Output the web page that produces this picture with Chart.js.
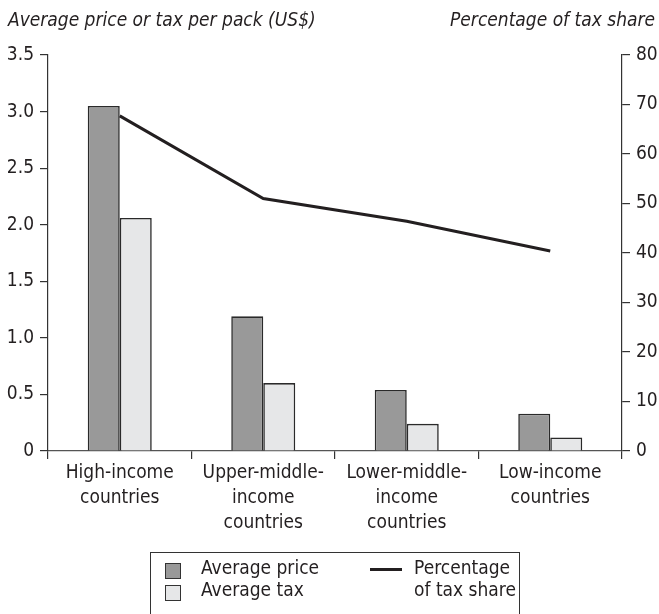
<!DOCTYPE html>
<html>
<head>
<meta charset="utf-8">
<script src="https://cdn.jsdelivr.net/npm/chart.js@4/dist/chart.umd.min.js"></script>
<style>
  body{margin:0;background:#fff;}
  #wrap{position:relative;width:659px;height:614px;overflow:hidden;font-family:'Liberation Sans Narrow','DejaVu Sans Condensed',sans-serif;color:#231f20;}
  .ttl{position:absolute;top:8px;font-size:19px;font-style:italic;white-space:nowrap;}
  #legend{position:absolute;left:150px;top:552px;width:370px;height:90px;border:1px solid #333;box-sizing:border-box;font-size:19px;}
  .li{position:absolute;line-height:22px;white-space:nowrap;}
  .sw{position:absolute;width:16px;height:16px;border:1.5px solid #333;box-sizing:border-box;}
  .ln{position:absolute;width:32px;height:3px;}
</style>
</head>
<body>
<div id="wrap">
  <canvas id="c" width="659" height="614"></canvas>
  <div class="ttl" style="left:8px">Average price or tax per pack (US$)</div>
  <div class="ttl" style="right:4px">Percentage of tax share</div>
  <div id="legend"></div>
</div>
<script>
// ---- data ----
const categories = [["High-income","countries"],["Upper-middle-","income","countries"],["Lower-middle-","income","countries"],["Low-income","countries"]];
const avgPrice = [3.05, 1.19, 0.54, 0.33];
const avgTax = [2.06, 0.60, 0.24, 0.12];
const taxShare = [67.7, 51.0, 46.4, 40.4];
const leftTicks = [0, 0.5, 1.0, 1.5, 2.0, 2.5, 3.0, 3.5];
const rightTicks = [0, 10, 20, 30, 40, 50, 60, 70, 80];

const FONT = "'Liberation Sans Narrow','DejaVu Sans Condensed',sans-serif";
const ink = "#231f20";
const tickFont = {family: FONT, size: 19};

const chart = new Chart(document.getElementById("c"), {
  type: "bar",
  data: {
    labels: categories,
    datasets: [
      {type:"line", label:["Percentage","of tax share"], data:taxShare, yAxisID:"y1", borderColor:ink, borderWidth:3, pointRadius:0, tension:0, order:0},
      {label:"Average price", data:avgPrice, yAxisID:"y", backgroundColor:"#999999", borderColor:"#2a2a2a", borderWidth:1.6, order:1},
      {label:"Average tax", data:avgTax, yAxisID:"y", backgroundColor:"#e6e7e8", borderColor:"#2a2a2a", borderWidth:1.6, order:1}
    ]
  },
  options: {
    responsive: false,
    animation: false,
    categoryPercentage: 0.446,
    barPercentage: 1,
    layout: {padding: {top: 55, left: 0, right: 0, bottom: 0}},
    plugins: {legend: {display: false}, tooltip: {enabled: false}},
    scales: {
      x: {
        grid: {drawOnChartArea: false, tickLength: 8, color: "#333", lineWidth: 1.2},
        border: {color: "#555", width: 1.2},
        ticks: {font: {family: FONT, size: 19, lineHeight: 1.3}, color: ink, padding: 2, maxRotation: 0, autoSkip: false},
        afterFit: s => { s.height = 163; }
      },
      y: {
        position: "left", min: 0, max: 3.5,
        afterBuildTicks: s => { s.ticks = leftTicks.map(v => ({value: v})); },
        grid: {drawOnChartArea: false, tickLength: 8, color: "#333", lineWidth: 1.2},
        border: {color: "#333", width: 1.2},
        ticks: {font: tickFont, color: ink, padding: 6, callback: v => v === 0 ? "0" : v.toFixed(1)},
        afterFit: s => { s.width = 48; }
      },
      y1: {
        position: "right", min: 0, max: 80,
        afterBuildTicks: s => { s.ticks = rightTicks.map(v => ({value: v})); },
        grid: {drawOnChartArea: false, tickLength: 8, color: "#333", lineWidth: 1.2},
        border: {color: "#333", width: 1.2},
        ticks: {font: tickFont, color: ink, padding: 6},
        afterFit: s => { s.width = 37; }
      }
    }
  }
});

// ---- legend (html, built from the datasets) ----
const lg = document.getElementById("legend");
const bars = chart.data.datasets.filter(d => d.type !== "line");
bars.forEach((d, i) => {
  const sw = document.createElement("div");
  sw.className = "sw";
  sw.style.left = "14px"; sw.style.top = (10 + i * 22) + "px";
  sw.style.background = d.backgroundColor;
  lg.appendChild(sw);
  const t = document.createElement("div");
  t.className = "li";
  t.style.left = "50px"; t.style.top = (3 + i * 22) + "px";
  t.textContent = d.label;
  lg.appendChild(t);
});
const ld = chart.data.datasets.find(d => d.type === "line");
const ln = document.createElement("div");
ln.className = "ln";
ln.style.left = "219px"; ln.style.top = "15px"; ln.style.background = ld.borderColor;
lg.appendChild(ln);
ld.label.forEach((s, i) => {
  const t = document.createElement("div");
  t.className = "li";
  t.style.left = "263px"; t.style.top = (3 + i * 22) + "px";
  t.textContent = s;
  lg.appendChild(t);
});
</script>
</body>
</html>
